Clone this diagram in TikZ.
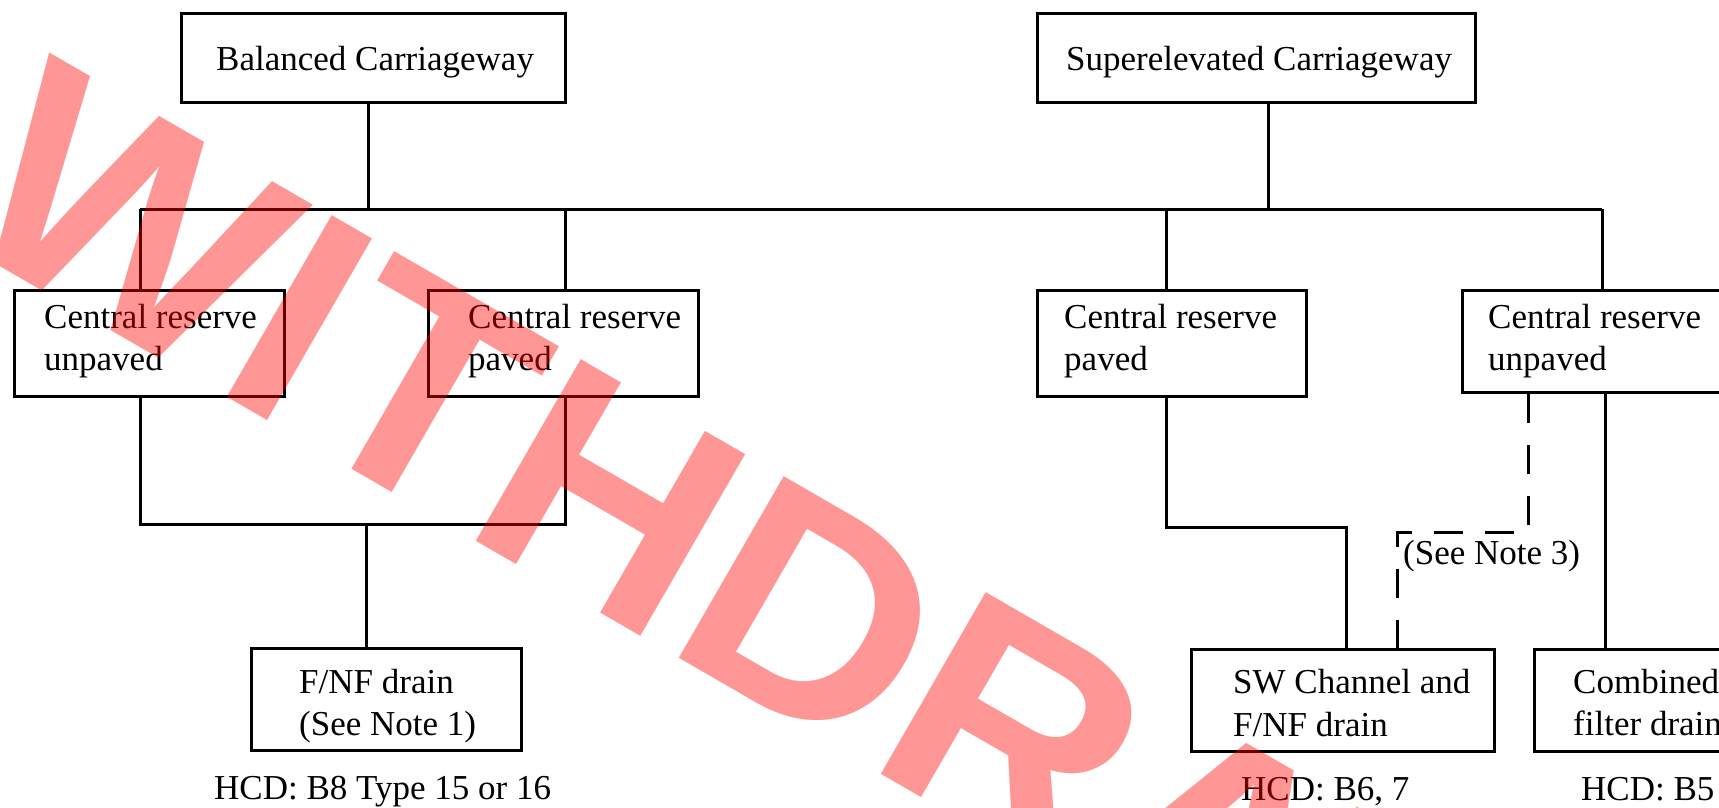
\documentclass[tikz,border=0pt]{standalone}
\usepackage{graphicx}
\usepackage{fontspec}
\setmainfont{Liberation Serif}
\newfontfamily\stampfont{Liberation Sans}
\begin{document}
\begin{tikzpicture}[x=1pt,y=-1pt,
  box/.style={draw=black, line width=3pt, rectangle, inner sep=0pt},
  conn/.style={draw=black, line width=3pt},
  notepath/.style={conn, dash pattern=on 29pt off 22pt},
  txt/.style={inner sep=0pt, anchor=base west, font=\fontsize{35}{42}\selectfont},
  stamp/.style={inner sep=0pt, anchor=base west, rotate=-30, text=red,
    text opacity=0.41, font=\stampfont\bfseries\fontsize{305}{305}\selectfont}]
\useasboundingbox (0,0) rectangle (1719,807);
\clip (0,0) rectangle (1719,807);

% carriageway types
\node[box, minimum width=384pt, minimum height=89pt] (bal) at (373,57.5) {};
\node[box, minimum width=438pt, minimum height=89pt] (sup) at (1256,57.5) {};
\node[txt] (balT) at (216,70) {Balanced Carriageway};
\node[txt] (supT) at (1066,70) {Superelevated Carriageway};

% central reserve options
\node[box, minimum width=270pt, minimum height=106pt] (cr1) at (149,343) {};
\node[box, minimum width=270pt, minimum height=106pt] (cr2) at (563,343) {};
\node[box, minimum width=269pt, minimum height=106pt] (cr3) at (1171.5,343) {};
\node[box, minimum width=270pt, minimum height=102pt] (cr4) at (1597,341) {};
\node[txt] (cr1a) at (44,328) {Central reserve};
\node[txt] (cr1b) at (44,370) {unpaved};
\node[txt] (cr2a) at (468,328) {Central reserve};
\node[txt] (cr2b) at (468,370) {paved};
\node[txt] (cr3a) at (1064,328) {Central reserve};
\node[txt] (cr3b) at (1064,370) {paved};
\node[txt] (cr4a) at (1488,328) {Central reserve};
\node[txt] (cr4b) at (1488,370) {unpaved};

% drainage solutions
\node[box, minimum width=270pt, minimum height=102pt] (fnf) at (386,699) {};
\node[box, minimum width=303pt, minimum height=102pt] (sw) at (1342.5,700) {};
\node[box, minimum width=270pt, minimum height=102pt] (comb) at (1669,700) {};
\node[txt] (fnfa) at (299,693) {F/NF drain};
\node[txt] (fnfb) at (299,735) {(See Note 1)};
\node[txt] (swa) at (1233,693) {SW Channel and};
\node[txt] (swb) at (1233,736) {F/NF drain};
\node[txt] (comba) at (1573,693) {Combined};
\node[txt] (combb) at (1573,735) {filter drain};
\node[txt] (hcd1) at (214,799) {HCD: B8 Type 15 or 16};
\node[txt] (hcd2) at (1241,800) {HCD: B6, 7};
\node[txt] (hcd3) at (1581,800) {HCD: B5};
\node[txt] (note3) at (1403,564) {(See Note 3)};

% upper tree
\coordinate (busL) at (140,209);
\coordinate (busR) at (1602,209);
\coordinate (stemB) at (368,209);
\coordinate (stemS) at (1268,209);
\coordinate (drop2) at (565,209);
\coordinate (drop3) at (1166,209);
\draw[conn] (stemB |- bal.south) -- (stemB);
\draw[conn] (stemS |- sup.south) -- (stemS);
\draw[conn] (busL) -- (busR);
\draw[conn] (busL) -- (busL |- cr1.north);
\draw[conn] (drop2) -- (drop2 |- cr2.north);
\draw[conn] (drop3) -- (drop3 |- cr3.north);
\draw[conn] (busR) -- (busR |- cr4.north);

% lower tree, balanced side
\coordinate (joinL) at (140,524);
\coordinate (joinR) at (565,524);
\coordinate (joinM) at (366,524);
\draw[conn] (joinL |- cr1.south) -- (joinL) -- (joinR) -- (joinR |- cr2.south);
\draw[conn] (joinM) -- (joinM |- fnf.north);

% lower tree, superelevated side
\coordinate (kneeA) at (1166,527);
\coordinate (kneeB) at (1346,527);
\draw[conn] (kneeA |- cr3.south) -- (kneeA) -- (kneeB) -- (kneeB |- sw.north);
\coordinate (dashA) at (1528,532);
\coordinate (dashB) at (1397,532);
\draw[notepath] (dashA |- cr4.south) -- (dashA) -- (dashB) -- (dashB |- sw.north);
\coordinate (combIn) at (1605,392);
\draw[conn] (combIn |- cr4.south) -- (combIn |- comb.north);

% withdrawn stamp
\node[stamp] (wd) at (-55.5,234) {\scalebox{1.06}[1]{WITHDRAWN}};
\end{tikzpicture}
\end{document}
